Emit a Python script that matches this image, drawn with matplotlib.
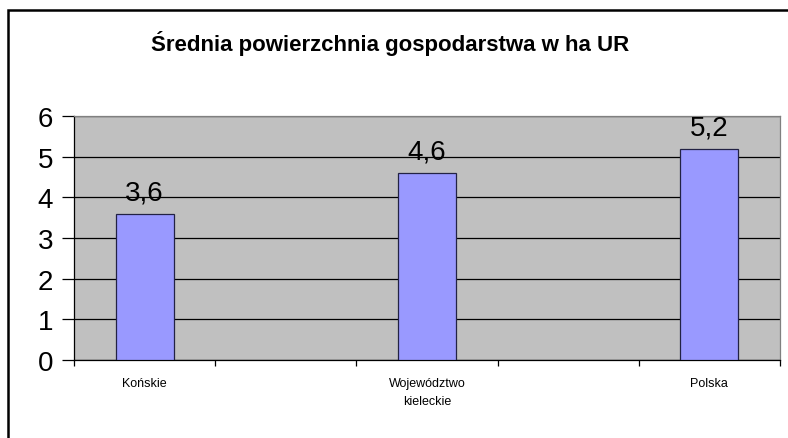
import matplotlib
matplotlib.use('Agg')
import matplotlib.pyplot as plt
from matplotlib.patches import Rectangle

categories = ['Końskie', 'Województwo\nkieleckie', 'Polska']
values = [3.6, 4.6, 5.2]
value_labels = ['3,6', '4,6', '5,2']
y_ticks = [0, 1, 2, 3, 4, 5, 6]
title = 'Średnia powierzchnia gospodarstwa w ha UR'

plt.rcParams['font.family'] = ['Liberation Sans', 'DejaVu Sans']

fig = plt.figure(figsize=(7.88, 4.39), dpi=100)
ax = fig.add_axes([74 / 788, 78 / 439, 706 / 788, 244 / 439])

x = list(range(len(categories)))
ax.bar(x, values, width=0.206, color='#9999FF', edgecolor='#222244', linewidth=0.9, zorder=3)
for xi, v, lab in zip(x, values, value_labels):
    ax.text(xi, v + 0.2, lab, ha='center', va='bottom', fontsize=20, zorder=4)

ax.set_xlim(-0.25, 2.25)
ax.set_ylim(0, 6)
ax.set_facecolor('#C0C0C0')
ax.set_yticks(y_ticks)
ax.set_yticklabels([str(t) for t in y_ticks], fontsize=20)
ax.yaxis.grid(True, color='black', linewidth=0.9, zorder=1)
ax.tick_params(axis='y', length=9, width=0.9, pad=6)

ax.set_xticks(x)
ax.set_xticklabels(categories, fontsize=9, linespacing=1.75)
ax.tick_params(axis='x', which='major', length=0, pad=12)
ax.set_xticks([-0.25 + 0.5 * k for k in range(6)], minor=True)
ax.tick_params(axis='x', which='minor', length=4, width=0.9)

for side in ['left', 'bottom']:
    ax.spines[side].set_color('black')
    ax.spines[side].set_linewidth(0.9)
for side in ['top', 'right']:
    ax.spines[side].set_color('#808080')
    ax.spines[side].set_linewidth(0.9)

fig.text(390 / 788, 1 - 43 / 439, title, ha='center', va='center', fontsize=16, fontweight='bold')

border = Rectangle((8 / 788, -0.05), 1.0, 1 - 10.5 / 439 + 0.05, transform=fig.transFigure,
                   fill=False, edgecolor='black', linewidth=1.8, clip_on=False)
fig.patches.append(border)

fig.savefig('out.png', dpi=100)
